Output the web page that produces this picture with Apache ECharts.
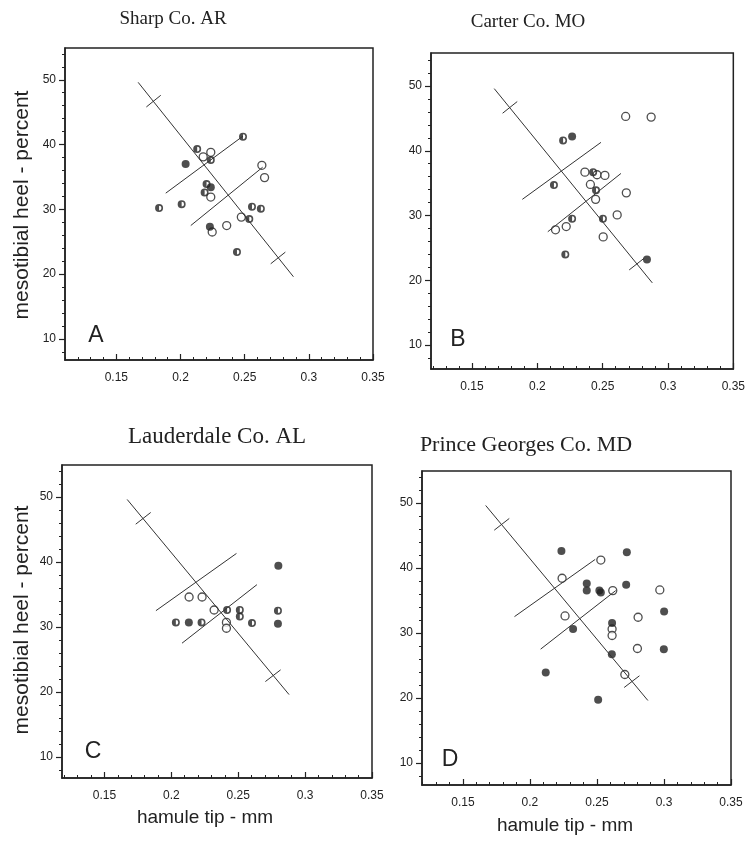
<!DOCTYPE html>
<html>
<head>
<meta charset="utf-8">
<script src="https://cdn.jsdelivr.net/npm/echarts@6/dist/echarts.min.js"></script>
<style>
  html, body { margin: 0; padding: 0; background: #fff; }
  #myChart { width: 748px; height: 842px; }
</style>
</head>
<body>
<div id="myChart"></div>
<script>
// tick values
var xTickLabels = [0.15, 0.2, 0.25, 0.3, 0.35];
var xMinorTicks = [0.11, 0.12, 0.13, 0.14, 0.16, 0.17, 0.18, 0.19, 0.21, 0.22, 0.23, 0.24,
                   0.26, 0.27, 0.28, 0.29, 0.31, 0.32, 0.33, 0.34];
var yTickLabels = [10, 20, 30, 40, 50];
var yMinorTicks = [8, 12, 14, 16, 18, 22, 24, 26, 28, 32, 34, 36, 38, 42, 44, 46, 48, 52, 54];

// reference lines, same in every panel
var mainLine = [[0.167, 49.6], [0.288, 19.6]];
var upperCross = [[0.1734, 45.8], [0.1846, 47.6]];
var lowerCross = [[0.2703, 21.6], [0.2817, 23.4]];
var upperPerp = [[0.1885, 32.5], [0.2487, 41.3]];
var lowerPerp = [[0.208, 27.5], [0.264, 36.5]];

// A  Sharp Co. AR
var aOpen = [[0.2177, 38.1], [0.2236, 38.8], [0.2236, 31.9], [0.2634, 36.8], [0.2655, 34.9],
             [0.2474, 28.8], [0.236, 27.5], [0.2247, 26.5]];
var aFilled = [[0.204, 37.0], [0.2236, 33.4], [0.2229, 27.3]];
var aHalf = [[0.1833, 30.2], [0.2009, 30.8], [0.213, 39.3], [0.2236, 37.6], [0.2203, 33.9],
             [0.2188, 32.6], [0.2487, 41.2], [0.2557, 30.4], [0.2626, 30.1], [0.2536, 28.5],
             [0.244, 23.4]];

// B  Carter Co. MO
var bOpen = [[0.2364, 36.7], [0.2457, 36.3], [0.2517, 36.2], [0.2406, 34.8], [0.2446, 32.5],
             [0.2676, 45.3], [0.2871, 45.2], [0.2681, 33.5], [0.2611, 30.1], [0.2504, 26.7],
             [0.2221, 28.3], [0.2139, 27.8]];
var bFilled = [[0.2266, 42.2], [0.2839, 23.2]];
var bHalf = [[0.2197, 41.6], [0.2127, 34.7], [0.2427, 36.7], [0.2449, 33.9], [0.2502, 29.5],
             [0.2266, 29.5], [0.2214, 24.0]];

// C  Lauderdale Co. AL
var cOpen = [[0.2133, 34.6], [0.223, 34.6], [0.232, 32.6], [0.2412, 30.7], [0.2412, 29.8]];
var cFilled = [[0.2131, 30.7], [0.28, 39.4], [0.2797, 30.5]];
var cHalf = [[0.2034, 30.7], [0.2226, 30.7], [0.2417, 32.6], [0.2512, 32.6], [0.2512, 31.6],
             [0.2603, 30.6], [0.2797, 32.5]];

// D  Prince Georges Co. MD
var dOpen = [[0.2529, 41.2], [0.224, 38.4], [0.2618, 36.5], [0.2262, 32.6], [0.2613, 30.6],
             [0.2613, 29.6], [0.2708, 23.6], [0.2969, 36.6], [0.2807, 32.4], [0.2802, 27.6]];
var dFilled = [[0.2235, 42.6], [0.2723, 42.4], [0.2424, 37.6], [0.2424, 36.5], [0.2518, 36.5],
               [0.2529, 36.2], [0.2718, 37.4], [0.2322, 30.6], [0.2613, 31.5], [0.2611, 26.7],
               [0.2118, 23.9], [0.2509, 19.7], [0.3001, 33.3], [0.2999, 27.5]];
var dHalf = [];

var ink = '#222';
// ring with the left half filled
var halfSymbol = 'path://M10 0A10 10 0 1 1 10 20A10 10 0 1 1 10 0ZM10 4A6 6 0 1 0 10 16A6 6 0 1 0 10 4ZM10 4A6 6 0 0 0 10 16Z';

var panels = [
  { grid: { left: 65, top: 48, width: 308, height: 312 }, xMin: 0.11, yMin: 6.75, yMax: 54.9,
    open: aOpen, filled: aFilled, half: aHalf },
  { grid: { left: 431, top: 53, width: 308, height: 316 }, xMin: 0.1186, yMin: 6.3, yMax: 55.1,
    open: bOpen, filled: bFilled, half: bHalf },
  { grid: { left: 62, top: 465, width: 310, height: 313 }, xMin: 0.1183, yMin: 6.77, yMax: 54.9,
    open: cOpen, filled: cFilled, half: cHalf },
  { grid: { left: 422, top: 471, width: 309, height: 314 }, xMin: 0.1195, yMin: 6.6, yMax: 54.9,
    open: dOpen, filled: dFilled, half: dHalf }
];

var option = {
  animation: false,
  backgroundColor: '#fff',
  grid: [], xAxis: [], yAxis: [], series: [],
  graphic: []
};

function fmt(v) { return String(+Number(v).toFixed(2)); }

panels.forEach(function (p, i) {
  option.grid.push(Object.assign({ show: true, borderColor: ink, borderWidth: 1.5 }, p.grid));

  option.xAxis.push({
    type: 'value', gridIndex: i, min: p.xMin, max: 0.35, position: 'bottom',
    axisLine: { show: true, lineStyle: { color: ink, width: 1.5 } },
    axisTick: { show: true, inside: true, length: 6, customValues: xTickLabels, lineStyle: { color: ink, width: 1.2 } },
    axisLabel: { customValues: xTickLabels, margin: 12, color: ink, fontSize: 12,
                 fontFamily: 'Liberation Sans', formatter: fmt },
    splitLine: { show: false }
  });
  option.xAxis.push({
    type: 'value', gridIndex: i, min: p.xMin, max: 0.35, position: 'bottom',
    axisLine: { show: false },
    axisTick: { show: true, inside: true, length: 3, customValues: xMinorTicks, lineStyle: { color: ink, width: 1 } },
    axisLabel: { show: false },
    splitLine: { show: false }
  });
  option.yAxis.push({
    type: 'value', gridIndex: i, min: p.yMin, max: p.yMax, position: 'left',
    axisLine: { show: true, lineStyle: { color: ink, width: 1.5 } },
    axisTick: { show: true, length: 6, customValues: yTickLabels, lineStyle: { color: ink, width: 1.2 } },
    axisLabel: { customValues: yTickLabels, margin: 9, color: ink, fontSize: 12, fontFamily: 'Liberation Sans' },
    splitLine: { show: false }
  });
  option.yAxis.push({
    type: 'value', gridIndex: i, min: p.yMin, max: p.yMax, position: 'left',
    axisLine: { show: false },
    axisTick: { show: true, length: 3, customValues: yMinorTicks, lineStyle: { color: ink, width: 1 } },
    axisLabel: { show: false },
    splitLine: { show: false }
  });

  [mainLine, upperCross, lowerCross, upperPerp, lowerPerp].forEach(function (seg) {
    option.series.push({
      type: 'line', xAxisIndex: 2 * i, yAxisIndex: 2 * i, data: seg,
      symbol: 'none', silent: true,
      lineStyle: { color: '#333', width: 1 }
    });
  });

  option.series.push({
    type: 'scatter', xAxisIndex: 2 * i, yAxisIndex: 2 * i, data: p.open,
    symbol: 'circle', symbolSize: 8,
    itemStyle: { color: '#fff', borderColor: ink, borderWidth: 1.3 }
  });
  option.series.push({
    type: 'scatter', xAxisIndex: 2 * i, yAxisIndex: 2 * i, data: p.half,
    symbol: halfSymbol, symbolSize: 8, symbolKeepAspect: true,
    itemStyle: { color: ink }
  });
  option.series.push({
    type: 'scatter', xAxisIndex: 2 * i, yAxisIndex: 2 * i, data: p.filled,
    symbol: 'circle', symbolSize: 8,
    itemStyle: { color: ink }
  });
});

function label(text, x, y, size, family, rot) {
  return {
    type: 'text', x: x, y: y, rotation: rot || 0,
    style: { text: text, fontSize: size, fontFamily: family, fill: ink,
             align: 'center', verticalAlign: 'middle' }
  };
}

option.graphic = [
  label('Sharp Co. AR', 173, 19, 19, 'Liberation Serif'),
  label('Carter Co. MO', 528, 22, 19, 'Liberation Serif'),
  label('Lauderdale Co. AL', 217, 437, 23, 'Liberation Serif'),
  label('Prince Georges Co. MD', 526, 445, 22, 'Liberation Serif'),
  label('A', 96, 336, 23, 'Liberation Sans'),
  label('B', 458, 340, 23, 'Liberation Sans'),
  label('C', 93, 752, 23, 'Liberation Sans'),
  label('D', 450, 760, 23, 'Liberation Sans'),
  label('mesotibial heel - percent', 22, 205, 21, 'Liberation Sans', Math.PI / 2),
  label('mesotibial heel - percent', 22, 620, 21, 'Liberation Sans', Math.PI / 2),
  label('hamule tip - mm', 205, 818, 19, 'Liberation Sans'),
  label('hamule tip - mm', 565, 826, 19, 'Liberation Sans')
];

var myChart = echarts.init(document.getElementById('myChart'), null, { renderer: 'canvas' });
myChart.setOption(option);
</script>
</body>
</html>
